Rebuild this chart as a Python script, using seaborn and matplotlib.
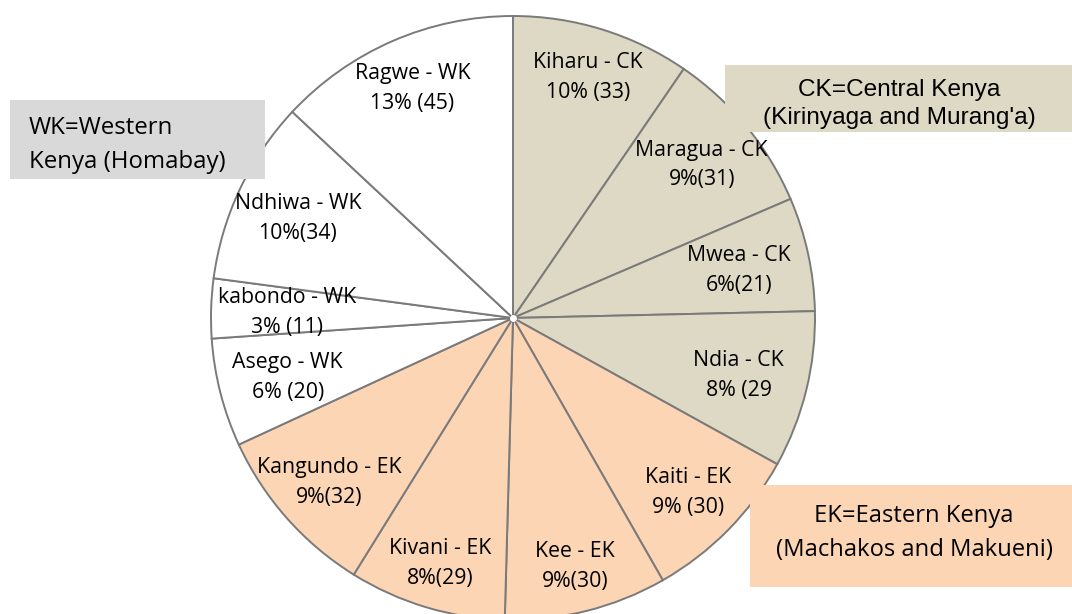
import numpy as np
import seaborn as sns
import matplotlib.pyplot as plt
from matplotlib.patches import Rectangle

# sub-counties, clockwise from 12 o'clock
names = ['Kiharu', 'Maragua', 'Mwea', 'Ndia', 'Kaiti', 'Kee', 'Kivani',
         'Kangundo', 'Asego', 'kabondo', 'Ndhiwa', 'Ragwe']
regions = ['CK', 'CK', 'CK', 'CK', 'EK', 'EK', 'EK', 'EK', 'WK', 'WK', 'WK', 'WK']
counts = [33, 31, 21, 29, 30, 30, 29, 32, 20, 11, 34, 45]
pct_text = ['10% (33)', '9%(31)', '6%(21)', '8% (29', '9% (30)', '9%(30)',
            '8%(29)', '9%(32)', '6% (20)', '3% (11)', '10%(34)', '13% (45)']

region_colors = {'CK': '#DDD9C4', 'EK': '#FCD5B5', 'WK': '#FFFFFF'}

sns.set_theme(style='white')
plt.rcParams['font.family'] = ['Open Sans', 'DejaVu Sans']

W, H = 1072, 614
fig = plt.figure(figsize=(W / 100, H / 100), dpi=100)
ax = fig.add_axes([0, 0, 1, 1])

cx, cy, R = 513, H - 318, 302

wedges, _ = ax.pie(counts, colors=[region_colors[r] for r in regions],
                   startangle=90, counterclock=False, center=(cx, cy), radius=R,
                   wedgeprops=dict(edgecolor='#7a7a7a', linewidth=1.4))

# pie() resets the limits, so set the pixel frame afterwards
ax.set_xlim(0, W)
ax.set_ylim(0, H)
ax.set_aspect('equal')
ax.axis('off')

# slice labels, pulled in a bit more where the slice is near horizontal
for w, name, reg, pct in zip(wedges, names, regions, pct_text):
    th = np.deg2rad((w.theta1 + w.theta2) / 2)
    frac = 0.745 + 0.1 * abs(np.sin(th))
    ax.text(cx + frac * R * np.cos(th), cy + frac * R * np.sin(th) - 2,
            f'{name} - {reg}\n{pct}', ha='center', va='center',
            fontsize=15.3, linespacing=1.55, color='black')

ax.plot(cx, cy, 'o', ms=4, color='white', zorder=5)

# region key boxes (text_y is the middle of the two text lines, from the top)
def key_box(x0, y0, x1, y1, color, text, tx, ty, ha, family, size, ls):
    ax.add_patch(Rectangle((x0, H - y1), x1 - x0, y1 - y0, facecolor=color,
                           edgecolor='none', zorder=6))
    ax.text(tx, H - ty, text, ha=ha, va='center', fontsize=size,
            family=family, linespacing=ls, zorder=7, color='black')

key_box(725, 65, 1072, 132, region_colors['CK'],
        'CK=Central Kenya\n(Kirinyaga and Murang\'a)', 899, 104, 'center',
        ['Liberation Sans', 'DejaVu Sans'], 17.6, 1.3)
key_box(10, 100, 265, 179, '#D9D9D9',
        'WK=Western\nKenya (Homabay)', 29, 145, 'left',
        ['Open Sans', 'DejaVu Sans'], 17.3, 1.52)
key_box(750, 485, 1072, 587, region_colors['EK'],
        'EK=Eastern Kenya\n(Machakos and Makueni)', 914, 533, 'center',
        ['Open Sans', 'DejaVu Sans'], 17.1, 1.58)

fig.savefig('out.png', dpi=100, facecolor='white')
